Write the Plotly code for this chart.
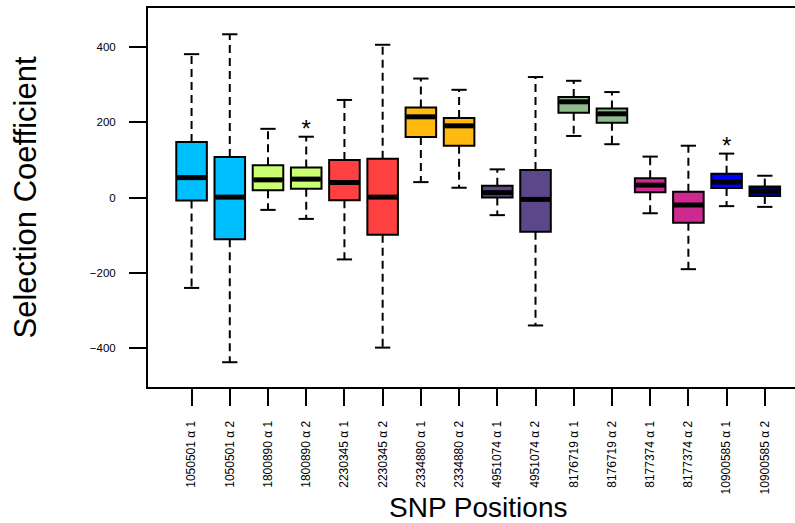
import plotly.graph_objects as go

labels = ["1050501 α 1", "1050501 α 2", "1800890 α 1", "1800890 α 2",
          "2230345 α 1", "2230345 α 2", "2334880 α 1", "2334880 α 2",
          "4951074 α 1", "4951074 α 2", "8176719 α 1", "8176719 α 2",
          "8177374 α 1", "8177374 α 2", "10900585 α 1", "10900585 α 2"]
lower = [-241, -439, -33, -57, -165, -400, 41, 26, -47, -341, 164, 142, -42, -191, -23, -25]
q1 = [-8, -111, 19, 23, -7, -99, 161, 138, 0, -91, 226, 199, 14, -67, 25, 4]
median = [53, 1, 47, 49, 40, 1, 215, 191, 13, -5, 255, 223, 33, -20, 41, 17]
q3 = [148, 108, 86, 80, 100, 103, 240, 212, 31, 73, 268, 237, 51, 15, 63, 29]
upper = [382, 435, 183, 162, 260, 407, 317, 287, 75, 321, 311, 281, 109, 138, 117, 58]
colors = ["#00BFFF", "#00BFFF", "#CAFF70", "#CAFF70", "#FF4040", "#FF4040",
          "#FFB90F", "#FFB90F", "#5D478B", "#5D478B", "#8FBC8F", "#8FBC8F",
          "#CD2990", "#CD2990", "#0000FF", "#000080"]
star_pos = [4, 15]
star_val = [178, 131]

FONT = "Liberation Sans, Arial, Helvetica, sans-serif"
BW = 0.8
CAP = 0.2

fig = go.Figure()
xs = list(range(1, len(labels) + 1))

for i, x in enumerate(xs):
    fig.add_trace(go.Box(
        x=[x], q1=[q1[i]], median=[median[i]], q3=[q3[i]],
        lowerfence=[q1[i]], upperfence=[q3[i]],
        width=BW, fillcolor=colors[i],
        line=dict(color="black", width=2),
        boxpoints=False, hoverinfo="skip", showlegend=False,
    ))

wx, wy = [], []
cx, cy = [], []
mx, my = [], []
for i, x in enumerate(xs):
    wx += [x, x, None, x, x, None]
    wy += [q3[i], upper[i], None, q1[i], lower[i], None]
    cx += [x - CAP, x + CAP, None, x - CAP, x + CAP, None]
    cy += [upper[i], upper[i], None, lower[i], lower[i], None]
    mx += [x - BW / 2 + 0.02, x + BW / 2 - 0.02, None]
    my += [median[i], median[i], None]

fig.add_trace(go.Scatter(x=wx, y=wy, mode="lines",
                         line=dict(color="black", width=2, dash="8px,5px"),
                         hoverinfo="skip", showlegend=False))
fig.add_trace(go.Scatter(x=cx, y=cy, mode="lines",
                         line=dict(color="black", width=2),
                         hoverinfo="skip", showlegend=False))
fig.add_trace(go.Scatter(x=mx, y=my, mode="lines",
                         line=dict(color="black", width=5),
                         hoverinfo="skip", showlegend=False))
fig.add_trace(go.Scatter(x=star_pos, y=star_val, mode="text", text=["*", "*"],
                         textposition="middle center",
                         textfont=dict(family=FONT, size=24, color="black"),
                         hoverinfo="skip", showlegend=False))

fig.update_layout(
    width=795, height=523,
    margin=dict(l=148, r=0, t=8, b=136),
    paper_bgcolor="white", plot_bgcolor="white",
    font=dict(family=FONT, color="black"),
    showlegend=False,
    xaxis=dict(
        range=[-0.14, 16.79],
        tickmode="array", tickvals=xs, ticktext=labels, tickangle=-90,
        ticks="outside", ticklen=17, tickwidth=2, tickcolor="black",
        tickfont=dict(size=12, family=FONT),
        ticklabelstandoff=10,
        showline=True, linecolor="black", linewidth=2, mirror=True,
        showgrid=False, zeroline=False, automargin=False,
    ),
    yaxis=dict(
        range=[-505, 505],
        tickmode="array", tickvals=[-400, -200, 0, 200, 400],
        ticks="outside", ticklen=17, tickwidth=2, tickcolor="black",
        tickfont=dict(size=11.5, family=FONT),
        ticklabelstandoff=11,
        showline=True, linecolor="black", linewidth=2, mirror=False,
        showgrid=False, zeroline=False, automargin=False,
    ),
    annotations=[
        dict(text="SNP Positions", xref="paper", yref="paper",
             x=0.51, y=-0.318, xanchor="center", yanchor="middle",
             showarrow=False, font=dict(size=28, family=FONT)),
        dict(text="Selection Coefficient", xref="paper", yref="paper",
             x=-0.1886, y=0.5, xanchor="center", yanchor="middle",
             textangle=-90, showarrow=False, font=dict(size=31, family=FONT)),
    ],
)

fig.write_html("out.html", config={"displayModeBar": False},
               post_script="document.body.style.margin='0';document.body.style.overflow='hidden';")
